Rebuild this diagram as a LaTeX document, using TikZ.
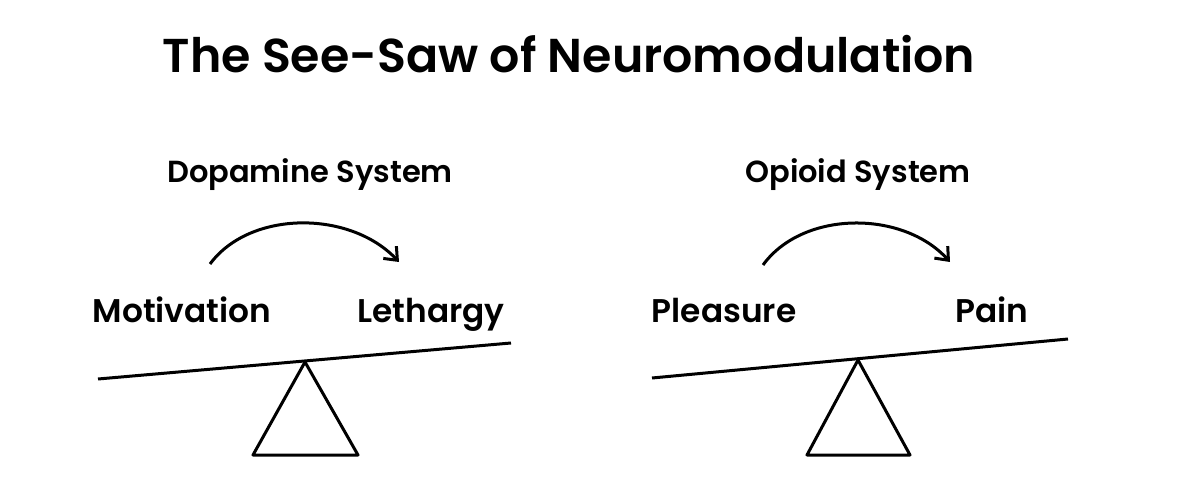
\documentclass[tikz,border=0pt]{standalone}
\usepackage{fontspec}
\setmainfont{Poppins}[BoldFont={Poppins SemiBold}]
\usetikzlibrary{arrows.meta}
\tikzset{
	weight/.style={font=\fontsize{32.8}{37}\selectfont\bfseries, anchor=base, inner sep=0pt},
	sysname/.style={font=\fontsize{30.5}{36}\selectfont\bfseries, anchor=base, inner sep=0pt},
	swing/.style={line width=3pt, -{Straight Barb[length=11pt, width=18pt, line width=3pt]}},
	beam/.style={line width=3pt},
}
\begin{document}
\begin{tikzpicture}[x=1pt, y=-1pt]
		\useasboundingbox (0, 0) rectangle (1200, 481);
		\node[anchor=base, inner sep=0pt, font=\fontsize{47.5}{56}\selectfont\bfseries] (title) at (569, 73) {The See-Saw of Neuromodulation};
		
		% dopamine side
		\node[sysname] (dopa) at (310, 183) {Dopamine System};
		\node[weight] (motiv) at (182, 323) {Motivation};
		\node[weight] (leth) at (431, 323) {Lethargy};
		\coordinate (d1) at (210, 264);
		\coordinate (d2) at (399, 262);
		\draw[swing] (d1) .. controls (250, 210) and (350, 210) .. (d2);
		\coordinate (dl) at (98, 379);
		\coordinate (dr) at (511, 343);
		\draw[beam] (dl) -- (dr);
		\draw[beam, line join=round] (305, 362) -- (358, 455) -- (253, 455) -- cycle;
		
		% opioid side
		\node[sysname] (opio) at (858, 183) {Opioid System};
		\node[weight] (pleas) at (724, 323) {Pleasure};
		\node[weight] (pain) at (992, 323) {Pain};
		\coordinate (o1) at (763, 265);
		\coordinate (o2) at (950, 262);
		\draw[swing] (o1) .. controls (803, 210) and (903, 210) .. (o2);
		\coordinate (ol) at (652, 378);
		\coordinate (or) at (1068, 339);
		\draw[beam] (ol) -- (or);
		\draw[beam, line join=round] (858, 360) -- (910, 455) -- (807, 455) -- cycle;
	\end{tikzpicture}
\end{document}
